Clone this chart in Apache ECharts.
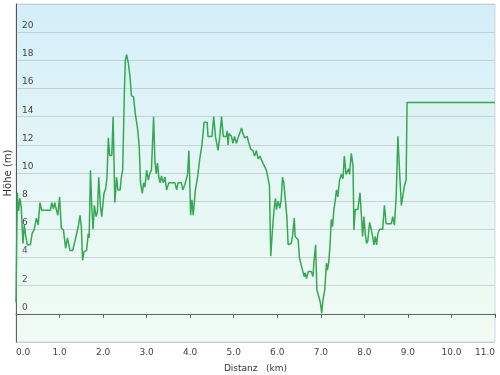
<!DOCTYPE html>
<html>
<head>
<meta charset="utf-8">
<script src="https://cdn.jsdelivr.net/npm/echarts@6/dist/echarts.min.js"></script>
<style>
html,body{margin:0;padding:0;background:#fff;}
#chart{width:500px;height:375px;}
</style>
</head>
<body>
<div id="chart"></div>
<script>
// Distance along the track (km)
const distKm = [
  0.00, 0.03, 0.06, 0.09, 0.12, 0.16, 0.19, 0.22, 0.26, 0.33, 0.37, 0.42, 0.47, 0.51, 0.55, 0.59,
  0.79, 0.82, 0.86, 0.89, 0.93, 0.96, 1.00, 1.04, 1.09, 1.14, 1.18, 1.24, 1.30, 1.35, 1.43, 1.47,
  1.50, 1.53, 1.56, 1.62, 1.66, 1.68, 1.71, 1.74, 1.77, 1.80, 1.84, 1.87, 1.90, 1.94, 1.97, 2.02,
  2.06, 2.09, 2.12, 2.15, 2.20, 2.23, 2.27, 2.31, 2.34, 2.39, 2.42, 2.45, 2.49, 2.51, 2.54, 2.58,
  2.62, 2.65, 2.70, 2.74, 2.79, 2.83, 2.86, 2.90, 2.93, 2.96, 3.00, 3.04, 3.07, 3.11, 3.16, 3.19,
  3.22, 3.25, 3.28, 3.31, 3.34, 3.38, 3.42, 3.46, 3.51, 3.65, 3.69, 3.72, 3.80, 3.83, 3.88, 3.94,
  3.97, 3.99, 4.01, 4.04, 4.07, 4.12, 4.17, 4.22, 4.27, 4.32, 4.39, 4.41, 4.50, 4.54, 4.58, 4.64,
  4.68, 4.72, 4.76, 4.83, 4.85, 4.87, 4.89, 4.95, 4.98, 5.02, 5.06, 5.11, 5.18, 5.21, 5.25, 5.31,
  5.34, 5.39, 5.44, 5.48, 5.52, 5.56, 5.60, 5.64, 5.67, 5.71, 5.75, 5.79, 5.82, 5.85, 5.89, 5.93,
  5.96, 5.98, 6.02, 6.06, 6.09, 6.12, 6.15, 6.19, 6.22, 6.25, 6.29, 6.32, 6.35, 6.39, 6.41, 6.45,
  6.48, 6.51, 6.54, 6.58, 6.62, 6.64, 6.67, 6.71, 6.74, 6.78, 6.82, 6.84, 6.88, 6.91, 6.95, 6.99,
  7.02, 7.05, 7.09, 7.13, 7.15, 7.18, 7.21, 7.24, 7.27, 7.30, 7.33, 7.36, 7.39, 7.43, 7.47, 7.51,
  7.54, 7.58, 7.61, 7.64, 7.66, 7.70, 7.74, 7.76, 7.79, 7.85, 7.90, 7.93, 7.96, 7.99, 8.02, 8.05,
  8.08, 8.12, 8.16, 8.19, 8.22, 8.25, 8.28, 8.31, 8.35, 8.42, 8.46, 8.50, 8.62, 8.65, 8.69, 8.73,
  8.77, 8.81, 8.85, 8.88, 8.92, 8.96, 8.98, 11.00
];
// Elevation (m)
const heightM = [
  0.8, 8.6, 7.3, 8.2, 7.6, 5.0, 6.3, 5.6, 4.9, 4.9, 5.7, 6.0, 6.8, 6.3, 7.9, 7.35,
  7.35, 7.9, 7.45, 7.9, 7.35, 7.0, 8.3, 6.1, 5.95, 4.65, 5.4, 4.5, 4.5, 5.1, 6.2, 7.0,
  6.2, 3.8, 4.4, 4.5, 5.7, 5.4, 10.2, 7.6, 6.0, 7.7, 6.9, 7.25, 9.7, 7.6, 6.9, 8.55,
  8.9, 9.7, 12.5, 11.25, 11.25, 14.0, 7.9, 9.7, 8.8, 8.8, 9.7, 10.2, 15.9, 18.0, 18.4, 17.8,
  16.8, 15.5, 15.4, 14.2, 13.2, 11.9, 9.3, 8.55, 9.3, 9.0, 10.2, 9.5, 9.95, 10.2, 14.0, 10.9,
  9.95, 10.7, 9.7, 9.3, 9.8, 9.3, 9.7, 8.8, 9.3, 9.3, 8.8, 9.3, 9.3, 8.8, 9.2, 9.9,
  11.6, 9.5, 7.0, 8.1, 7.0, 8.8, 9.7, 11.0, 12.0, 13.6, 13.6, 12.6, 12.6, 14.0, 12.6, 11.6,
  12.6, 14.0, 12.6, 12.6, 13.0, 12.0, 12.8, 12.6, 12.1, 12.6, 12.1, 12.6, 13.2, 12.8, 12.5, 12.6,
  12.2, 11.7, 11.6, 11.2, 11.6, 11.0, 11.2, 11.3, 10.7, 10.8, 10.2, 9.6, 9.1, 4.1, 5.95, 7.6,
  8.2, 7.4, 8.0, 7.5, 8.1, 9.7, 9.3, 9.3, 6.9, 4.9, 5.0, 5.0, 5.5, 6.8, 5.5, 5.5,
  5.25, 3.95, 3.6, 3.1, 2.65, 2.9, 2.5, 3.0, 3.1, 3.0, 2.65, 3.6, 4.9, 1.7, 1.7, 0.8,
  0.05, 1.0, 1.7, 3.6, 3.1, 3.6, 4.8, 6.7, 6.2, 7.4, 8.0, 8.8, 8.3, 9.5, 9.9, 9.6,
  11.2, 9.9, 9.9, 10.3, 9.9, 11.4, 10.5, 5.95, 7.4, 7.4, 8.6, 7.1, 5.5, 6.9, 5.7, 5.0,
  5.2, 6.5, 5.95, 5.5, 4.9, 5.5, 4.9, 5.7, 6.0, 6.0, 7.7, 6.4, 6.4, 6.9, 6.3, 8.3,
  12.6, 10.0, 7.7, 8.3, 9.1, 9.5, 15.0, 15.0
];
// Axis settings
const xMin = 0, xMax = 11, xStep = 1;
const yMin = -2, yMax = 22, yStep = 2;
const xTitle = 'Distanz   (km)';
const yTitle = 'Höhe (m)';

const chart = echarts.init(document.getElementById('chart'), null, {renderer: 'canvas'});
const font = 'DejaVu Sans';
chart.setOption({
  animation: false,
  backgroundColor: '#ffffff',
  grid: {
    left: 16, right: 5, top: 4, bottom: 33,
    outerBoundsMode: 'none',
    show: true,
    borderWidth: 1,
    borderColor: '#cdd7db',
    backgroundColor: {
      type: 'linear', x: 0, y: 0, x2: 0, y2: 1,
      colorStops: [
        {offset: 0, color: '#d3eef9'},
        {offset: 0.5, color: '#e6f6f7'},
        {offset: 1, color: '#f0fcf3'}
      ]
    }
  },
  xAxis: {
    type: 'value', min: xMin, max: xMax, interval: xStep,
    name: xTitle, nameLocation: 'middle', nameGap: 22, nameMoveOverlap: false,
    nameTextStyle: {fontFamily: font, fontSize: 9, color: '#333'},
    axisLine: {show: true, lineStyle: {color: '#555', width: 1}},
    axisTick: {show: true, length: 4, lineStyle: {color: '#555'}},
    axisLabel: {
      fontFamily: font, fontSize: 9, color: '#444', margin: 6,
      alignMinLabel: 'left', alignMaxLabel: 'right',
      formatter: v => v.toFixed(1)
    },
    splitLine: {show: false}
  },
  yAxis: {
    type: 'value', min: yMin, max: yMax, interval: yStep,
    name: yTitle, nameLocation: 'middle', nameGap: 3, nameRotate: 90, nameMoveOverlap: false,
    nameTextStyle: {fontFamily: font, fontSize: 10, color: '#333'},
    axisLine: {show: true, lineStyle: {color: '#555', width: 1}},
    axisTick: {show: false},
    axisLabel: {
      inside: true, margin: 6, fontFamily: font, fontSize: 9, color: '#444',
      verticalAlign: 'bottom', showMinLabel: false, showMaxLabel: false,
      padding: [0, 0, 2, 0]
    },
    splitLine: {show: true, lineStyle: {color: '#c5d0d4', width: 1}}
  },
  series: [{
    type: 'line',
    data: distKm.map((d, i) => [d, heightM[i]]),
    showSymbol: false,
    symbol: 'none',
    lineStyle: {color: '#35a852', width: 1.5},
    areaStyle: {
      origin: 'start',
      color: {
        type: 'linear', x: 0, y: 0, x2: 0, y2: 1,
        colorStops: [
          {offset: 0, color: 'rgba(195,238,210,0.28)'},
          {offset: 1, color: 'rgba(235,252,238,0.1)'}
        ]
      }
    }
  }]
});
</script>
</body>
</html>
